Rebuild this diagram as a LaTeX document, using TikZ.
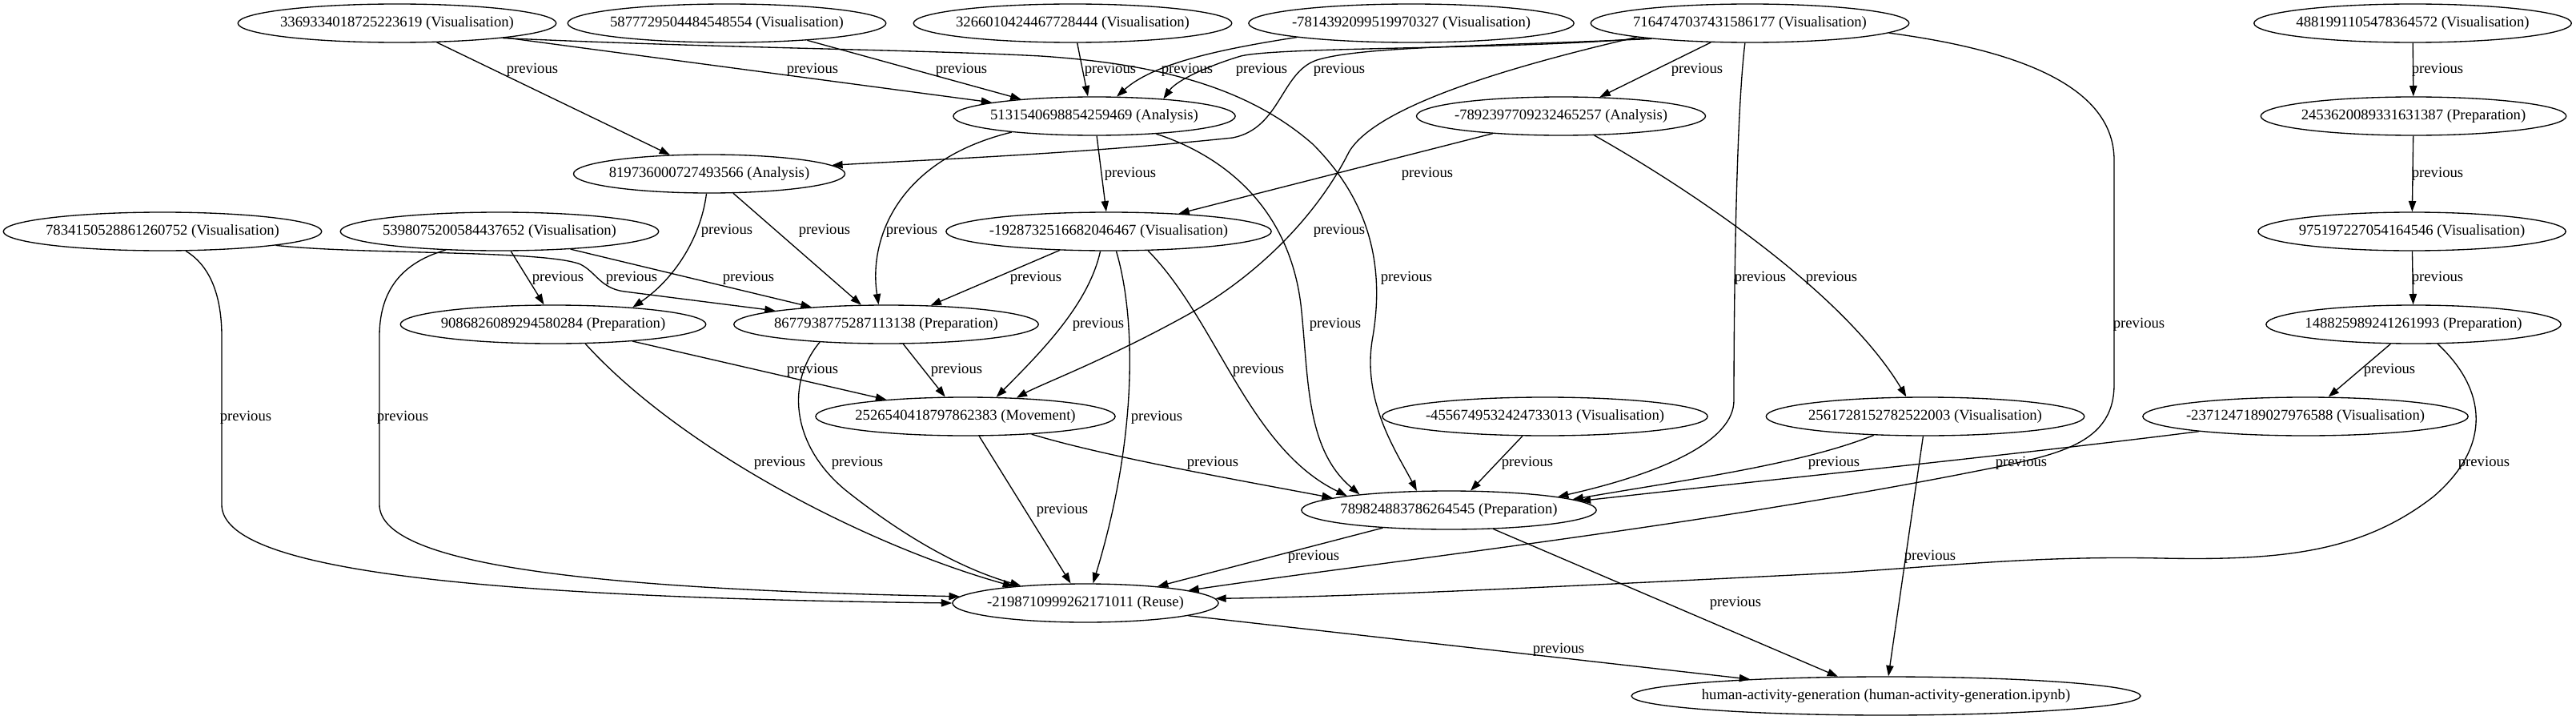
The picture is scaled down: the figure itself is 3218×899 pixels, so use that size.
\documentclass[tikz,border=0pt]{standalone}
\usepackage{fontspec}
\setmainfont{Liberation Serif}
\usetikzlibrary{shapes.geometric,arrows.meta}
\begin{document}
\begin{tikzpicture}[x=0.75pt,y=-0.75pt,
  gnode/.style={ellipse, draw, line width=1pt, inner xsep=-4pt, minimum height=36pt, font=\fontsize{14pt}{16pt}\selectfont},
  link/.style={draw, line width=1pt, -{Triangle[length=10pt,width=7pt]}},
  lbl/.style={inner sep=0pt, font=\fontsize{14pt}{16pt}\selectfont}]
\fill[white] (0,0) rectangle (3218,899);
\useasboundingbox (0,0) rectangle (3218,899);
% nodes
\node[gnode] (v3369) at (496,29) {3369334018725223619 (Visualisation)};
\node[gnode] (v5877) at (908,29) {5877729504484548554 (Visualisation)};
\node[gnode] (v3266) at (1340,29) {3266010424467728444 (Visualisation)};
\node[gnode] (v7814) at (1763,29) {-7814392099519970327 (Visualisation)};
\node[gnode] (v7164) at (2186,29) {7164747037431586177 (Visualisation)};
\node[gnode] (v4881) at (3014,29) {4881991105478364572 (Visualisation)};
\node[gnode] (a5131) at (1367,145) {5131540698854259469 (Analysis)};
\node[gnode] (a7892) at (1950,145) {-7892397709232465257 (Analysis)};
\node[gnode] (p2453) at (3015,145) {2453620089331631387 (Preparation)};
\node[gnode] (a8197) at (886,217) {819736000727493566 (Analysis)};
\node[gnode] (v7834) at (203,289) {7834150528861260752 (Visualisation)};
\node[gnode] (v5398) at (624,289) {5398075200584437652 (Visualisation)};
\node[gnode] (v1928) at (1385,289) {-1928732516682046467 (Visualisation)};
\node[gnode] (v9751) at (3013,289) {975197227054164546 (Visualisation)};
\node[gnode] (p9086) at (691,405) {9086826089294580284 (Preparation)};
\node[gnode] (p8677) at (1107,405) {8677938775287113138 (Preparation)};
\node[gnode] (p1488) at (3015,405) {148825989241261993 (Preparation)};
\node[gnode] (m2526) at (1206,520) {2526540418797862383 (Movement)};
\node[gnode] (v4556) at (1930,520) {-4556749532424733013 (Visualisation)};
\node[gnode] (v2561) at (2405,520) {2561728152782522003 (Visualisation)};
\node[gnode] (v2371) at (2880,520) {-2371247189027976588 (Visualisation)};
\node[gnode] (p7898) at (1810,637) {789824883786264545 (Preparation)};
\node[gnode] (r2198) at (1356,753) {-2198710999262171011 (Reuse)};
\node[gnode] (hag) at (2356,869) {human-activity-generation (human-activity-generation.ipynb)};
% edges
\draw[link] (v3369) -- (a8197);
\draw[link] (v3369) -- (a5131);
\draw[link] (v3369.-8) .. controls (900,60) and (1150,62) .. (1300,70) .. controls (1450,80) and (1560,110) .. (1640,180) .. controls (1710,250) and (1730,330) .. (1715,420) .. controls (1700,500) and (1745,565) .. (p7898.149);
\draw[link] (v5877.-12) -- (a5131.167);
\draw[link] (v3266.-77) -- (a5131.108);
\draw[link] (v7814.187) .. controls (1520,62) and (1440,80) .. (a5131.41);
\draw[link] (v7164.188) .. controls (1900,62) and (1600,58) .. (1550,70) .. controls (1510,82) and (1470,100) .. (a5131.14);
\draw[link] (v7164.189) .. controls (1850,58) and (1700,58) .. (1645,75) .. controls (1600,90) and (1600,160) .. (1540,172) .. controls (1350,192) and (1150,200) .. (a8197.4);
\draw[link] (v7164) -- (a7892);
\draw[link] (v7164.187) .. controls (1900,80) and (1720,130) .. (1685,190) .. controls (1650,260) and (1580,340) .. (1480,395) .. controls (1380,450) and (1300,480) .. (m2526.20);
\draw[link] (v7164.-104) .. controls (2168,150) and (2166,400) .. (2166,500) .. controls (2166,550) and (2080,590) .. (p7898.7);
\draw[link] (v7164.-4) .. controls (2500,60) and (2641,100) .. (2641,200) -- (2641,480) .. controls (2641,560) and (2560,570) .. (2450,592) .. controls (2100,660) and (1700,705) .. (r2198.7);
\draw[link] (v4881) -- (p2453);
\draw[link] (p2453) -- (v9751);
\draw[link] (v9751) -- (p1488);
\draw[link] (p1488) -- (v2371);
\draw[link] (p1488.-39) .. controls (3110,490) and (3110,560) .. (3040,620) .. controls (2950,690) and (2850,700) .. (2700,697) .. controls (2550,694) and (2450,705) .. (2300,715) .. controls (2000,730) and (1700,745) .. (r2198.2);
\draw[link] (a5131) -- (v1928);
\draw[link] (a5131.191) .. controls (1120,200) and (1085,300) .. (p8677.111);
\draw[link] (a5131.-16) .. controls (1530,195) and (1610,260) .. (1625,380) .. controls (1635,470) and (1630,560) .. (p7898.170);
\draw[link] (a7892) -- (v1928);
\draw[link] (a7892.-30) .. controls (2100,230) and (2300,360) .. (v2561.134);
\draw[link] (a8197.-98) .. controls (875,300) and (840,350) .. (p9086.12);
\draw[link] (a8197.-39) -- (p8677.142);
\draw[link] (v7834.-7) .. controls (450,318) and (680,312) .. (725,330) .. controls (745,340) and (750,360) .. (780,364) -- (p8677.173);
\draw[link] (v7834.-40) .. controls (268,335) and (277,380) .. (277,420) -- (277,630) .. controls (277,700) and (500,745) .. (r2198.180);
\draw[link] (v5398.-60) -- (p9086.115);
\draw[link] (v5398.-14) -- (p8677.167);
\draw[link] (v5398.199) .. controls (495,330) and (474,370) .. (474,420) -- (474,630) .. controls (474,700) and (700,735) .. (r2198.177);
\draw[link] (v1928.201) -- (p8677.23);
\draw[link] (v1928.-113) .. controls (1360,380) and (1300,440) .. (m2526.32);
\draw[link] (v1928.-69) .. controls (1420,400) and (1420,550) .. (r2198.69);
\draw[link] (v1928.-26) .. controls (1520,400) and (1560,560) .. (p7898.172);
\draw[link] (p9086.-12) -- (m2526.168);
\draw[link] (p9086.-31) .. controls (850,560) and (1080,680) .. (r2198.167);
\draw[link] (p8677.-49) -- (m2526.136);
\draw[link] (p8677.195) .. controls (980,480) and (990,560) .. (1060,615) .. controls (1130,670) and (1200,710) .. (r2198.165);
\draw[link] (m2526.-15) .. controls (1380,570) and (1550,600) .. (p7898.174);
\draw[link] (m2526.-55) -- (r2198.127);
\draw[link] (v4556.221) -- (p7898.42);
\draw[link] (v2561.200) .. controls (2250,580) and (2100,600) .. (p7898.5);
\draw[link] (v2561.-96) -- (hag.83);
\draw[link] (v2371.188) .. controls (2500,570) and (2200,600) .. (p7898.4);
\draw[link] (p7898.195) -- (r2198.13);
\draw[link] (p7898.-23) -- (hag.158);
\draw[link] (r2198.-7) -- (hag.173);
% labels
\node[lbl] (l1) at (665,87) {previous};
\node[lbl] (l2) at (1015,87) {previous};
\node[lbl] (l3) at (1201,87) {previous};
\node[lbl] (l4) at (1387,87) {previous};
\node[lbl] (l5) at (1483,87) {previous};
\node[lbl] (l6) at (1576,87) {previous};
\node[lbl] (l7) at (1673,87) {previous};
\node[lbl] (l8) at (2120,87) {previous};
\node[lbl] (l9) at (3045,87) {previous};
\node[lbl] (l10) at (1412,217) {previous};
\node[lbl] (l11) at (1783,217) {previous};
\node[lbl] (l12) at (3045,217) {previous};
\node[lbl] (l13) at (908,288) {previous};
\node[lbl] (l14) at (1030,288) {previous};
\node[lbl] (l15) at (1139,288) {previous};
\node[lbl] (l16) at (1673,288) {previous};
\node[lbl] (l17) at (697,347) {previous};
\node[lbl] (l18) at (789,347) {previous};
\node[lbl] (l19) at (935,347) {previous};
\node[lbl] (l20) at (1294,347) {previous};
\node[lbl] (l21) at (1757,347) {previous};
\node[lbl] (l22) at (2199,347) {previous};
\node[lbl] (l23) at (2288,347) {previous};
\node[lbl] (l24) at (3045,347) {previous};
\node[lbl] (l25) at (1372,405) {previous};
\node[lbl] (l26) at (1668,405) {previous};
\node[lbl] (l27) at (2672,405) {previous};
\node[lbl] (l28) at (1015,462) {previous};
\node[lbl] (l29) at (1195,462) {previous};
\node[lbl] (l30) at (1572,462) {previous};
\node[lbl] (l31) at (2985,462) {previous};
\node[lbl] (l32) at (307,521) {previous};
\node[lbl] (l33) at (503,521) {previous};
\node[lbl] (l34) at (1445,521) {previous};
\node[lbl] (l35) at (974,578) {previous};
\node[lbl] (l36) at (1071,578) {previous};
\node[lbl] (l37) at (1515,578) {previous};
\node[lbl] (l38) at (1908,578) {previous};
\node[lbl] (l39) at (2291,578) {previous};
\node[lbl] (l40) at (2525,578) {previous};
\node[lbl] (l41) at (3103,578) {previous};
\node[lbl] (l42) at (1327,637) {previous};
\node[lbl] (l43) at (1641,695) {previous};
\node[lbl] (l44) at (2411,695) {previous};
\node[lbl] (l45) at (2168,753) {previous};
\node[lbl] (l46) at (1947,811) {previous};
\end{tikzpicture}
\end{document}
